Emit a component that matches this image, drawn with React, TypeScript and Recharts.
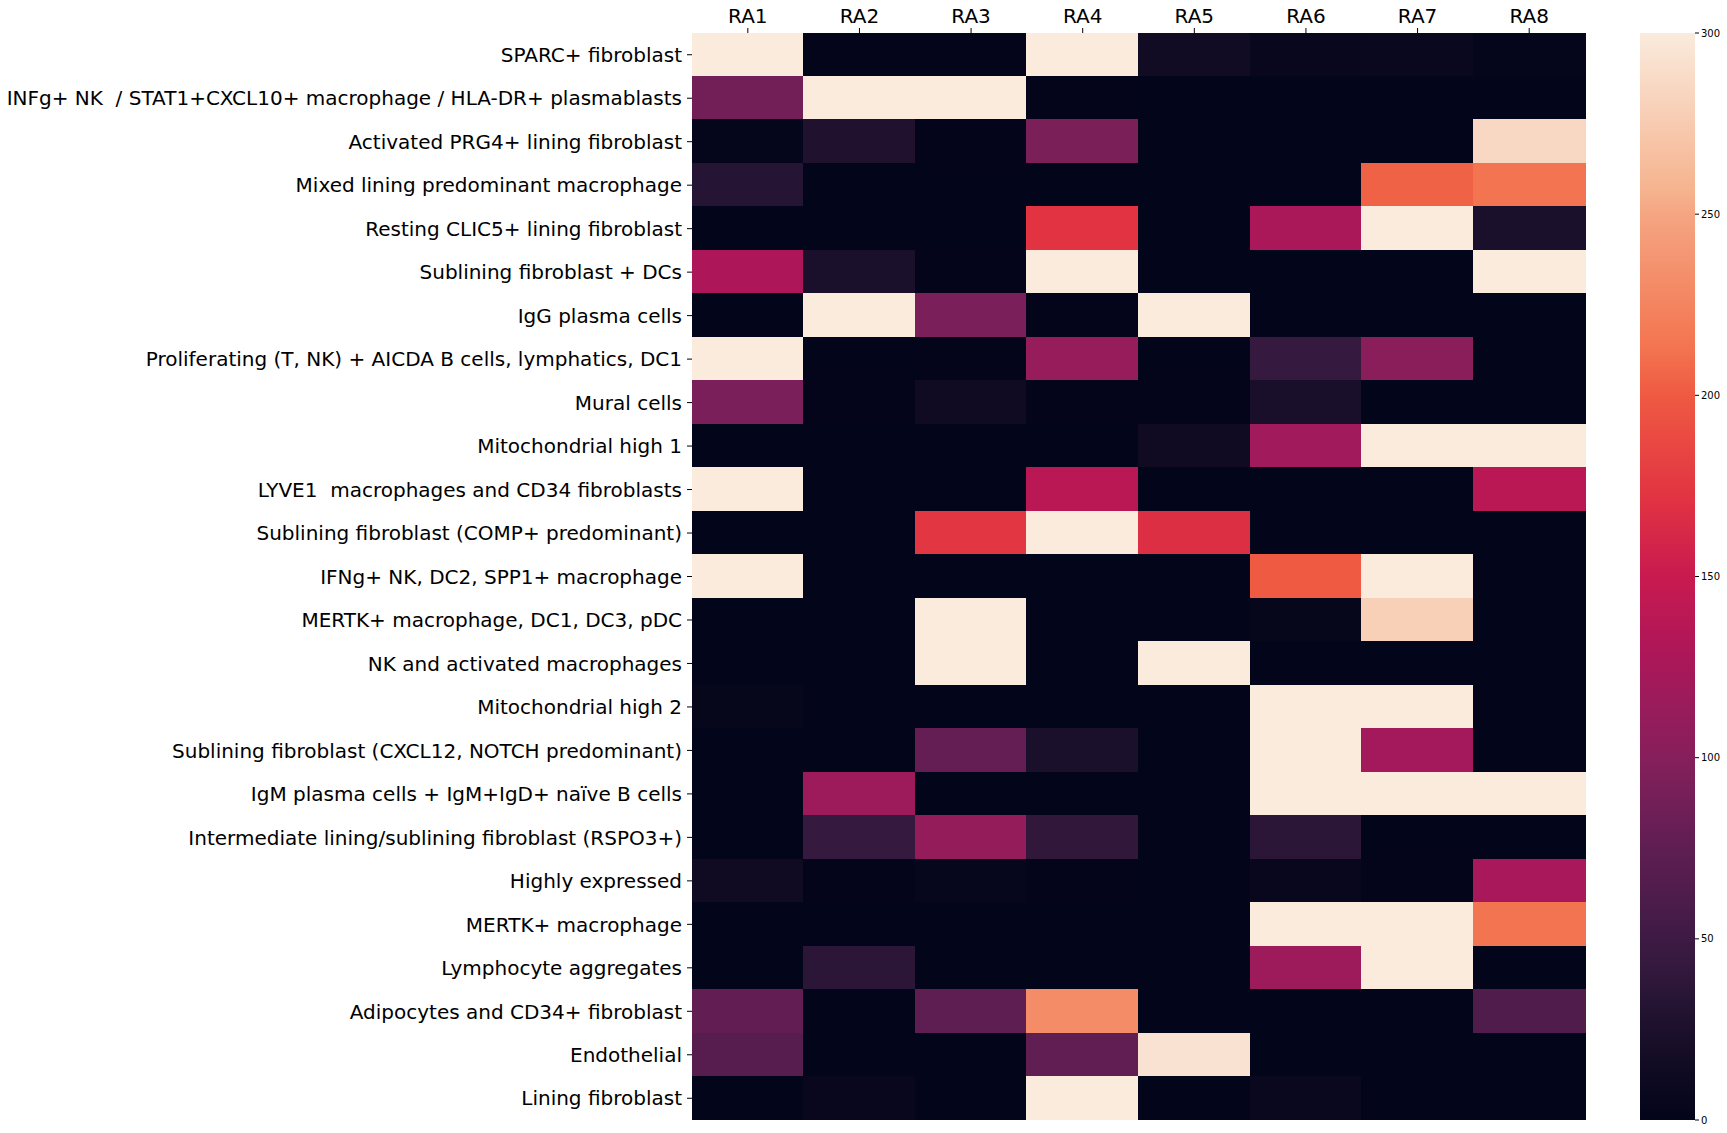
import React from 'react';
import { BarChart, Bar, XAxis, YAxis, Cell } from 'recharts';

// row labels (top to bottom)
const rowLabels = [
  'SPARC+ fibroblast',
  'INFg+ NK  / STAT1+CXCL10+ macrophage / HLA-DR+ plasmablasts',
  'Activated PRG4+ lining fibroblast',
  'Mixed lining predominant macrophage',
  'Resting CLIC5+ lining fibroblast',
  'Sublining fibroblast + DCs',
  'IgG plasma cells',
  'Proliferating (T, NK) + AICDA B cells, lymphatics, DC1',
  'Mural cells',
  'Mitochondrial high 1',
  'LYVE1  macrophages and CD34 fibroblasts',
  'Sublining fibroblast (COMP+ predominant)',
  'IFNg+ NK, DC2, SPP1+ macrophage',
  'MERTK+ macrophage, DC1, DC3, pDC',
  'NK and activated macrophages',
  'Mitochondrial high 2',
  'Sublining fibroblast (CXCL12, NOTCH predominant)',
  'IgM plasma cells + IgM+IgD+ naïve B cells',
  'Intermediate lining/sublining fibroblast (RSPO3+)',
  'Highly expressed',
  'MERTK+ macrophage',
  'Lymphocyte aggregates',
  'Adipocytes and CD34+ fibroblast',
  'Endothelial',
  'Lining fibroblast',
];

const colLabels = ['RA1', 'RA2', 'RA3', 'RA4', 'RA5', 'RA6', 'RA7', 'RA8'];

// one array per sample, same order as rowLabels
const RA1 = [300, 87, 2, 32, 0, 129, 0, 300, 92, 0, 300, 0, 300, 0, 0, 4, 0, 0, 0, 14, 0, 0, 77, 69, 0];
const RA2 = [1, 300, 28, 0, 0, 24, 300, 0, 1, 0, 0, 0, 0, 0, 0, 0, 0, 117, 43, 1, 0, 36, 0, 0, 5];
const RA3 = [1, 300, 1, 0, 0, 1, 92, 1, 14, 0, 0, 174, 0, 300, 300, 0, 78, 0, 110, 3, 0, 0, 74, 0, 0];
const RA4 = [300, 1, 93, 0, 171, 300, 1, 112, 1, 0, 138, 300, 0, 0, 0, 0, 24, 0, 40, 1, 0, 0, 231, 76, 300];
const RA5 = [15, 0, 0, 0, 0, 0, 300, 0, 1, 14, 0, 168, 0, 0, 300, 0, 0, 0, 0, 0, 0, 0, 0, 293, 0];
const RA6 = [6, 0, 0, 0, 127, 0, 0, 43, 23, 120, 0, 0, 200, 4, 0, 300, 300, 300, 37, 6, 300, 117, 0, 0, 8];
const RA7 = [7, 0, 0, 204, 300, 0, 0, 103, 0, 300, 0, 0, 300, 279, 0, 300, 122, 300, 0, 1, 300, 300, 0, 0, 0];
const RA8 = [2, 0, 285, 213, 24, 300, 0, 0, 0, 300, 138, 0, 0, 0, 0, 0, 0, 300, 0, 126, 213, 0, 63, 0, 0];

const columns = [RA1, RA2, RA3, RA4, RA5, RA6, RA7, RA8];

const colorbarTicks = [0, 50, 100, 150, 200, 250, 300];
const VMAX = 300;

// approx. seaborn "rocket"
const rocketStops: [number, string][] = [
  [0, '#03051a'],
  [0.05, '#110b23'],
  [0.1, '#221331'],
  [0.143, '#35193e'],
  [0.167, '#3d1a43'],
  [0.2, '#4c1c4b'],
  [0.25, '#5f1e52'],
  [0.286, '#701f57'],
  [0.333, '#861f5b'],
  [0.4, '#a11a5b'],
  [0.429, '#ad1759'],
  [0.5, '#c91a50'],
  [0.571, '#e13342'],
  [0.667, '#ef5a42'],
  [0.714, '#f37651'],
  [0.833, '#f5a582'],
  [0.857, '#f6b48f'],
  [0.93, '#f8d0b8'],
  [1, '#faebdd'],
];

const hexToRgb = (h: string) => [
  parseInt(h.slice(1, 3), 16),
  parseInt(h.slice(3, 5), 16),
  parseInt(h.slice(5, 7), 16),
];

const rocket = (t: number) => {
  const v = Math.max(0, Math.min(1, t));
  for (let i = 1; i < rocketStops.length; i++) {
    const [t1, c1] = rocketStops[i];
    if (v <= t1) {
      const [t0, c0] = rocketStops[i - 1];
      const f = (v - t0) / (t1 - t0);
      const a = hexToRgb(c0);
      const b = hexToRgb(c1);
      const rgb = a.map((x, k) => Math.round(x + (b[k] - x) * f));
      return `rgb(${rgb[0]},${rgb[1]},${rgb[2]})`;
    }
  }
  return rocketStops[rocketStops.length - 1][1];
};

const data = rowLabels.map((name) => {
  const row: any = { name };
  colLabels.forEach((c) => {
    row[c] = 1;
  });
  return row;
});

const FONT = '"DejaVu Sans", sans-serif';

const RowTick = (props: any) => {
  const { x, y, payload } = props;
  return (
    <text x={x} y={y} dy="0.36em" textAnchor="end" fontSize={20} fontFamily={FONT} fill="#000" style={{ whiteSpace: 'pre' }}>
      {payload.value}
    </text>
  );
};

const ColTick = (props: any) => {
  const { x, y, payload } = props;
  return (
    <text x={x} y={y} textAnchor="middle" fontSize={20} fontFamily={FONT} fill="#000">
      {colLabels[Math.floor(payload.value)]}
    </text>
  );
};

const App: React.FC = () => {
  return (
    <div style={{ position: 'absolute', left: 0, top: 0, width: 1727, height: 1133, background: '#fff' }}>
      <div style={{ position: 'absolute', left: 0, top: 0 }}>
        <BarChart
          width={1600}
          height={1133}
          data={data}
          layout="vertical"
          margin={{ top: 0, right: 15, bottom: 13, left: 0 }}
          barCategoryGap={0}
          barGap={0}
        >
          <XAxis
            type="number"
            orientation="top"
            domain={[0, 8]}
            ticks={[0.5, 1.5, 2.5, 3.5, 4.5, 5.5, 6.5, 7.5]}
            interval={0}
            height={33}
            axisLine={false}
            tickSize={5}
            tickMargin={5}
            tickLine={{ stroke: '#000', strokeWidth: 1 }}
            tick={<ColTick />}
          />
          <YAxis
            type="category"
            dataKey="name"
            width={692}
            interval={0}
            axisLine={false}
            tickSize={5}
            tickMargin={5}
            tickLine={{ stroke: '#000', strokeWidth: 1 }}
            tick={<RowTick />}
          />
          {colLabels.map((c, j) => (
            <Bar key={c} dataKey={c} stackId="a" isAnimationActive={false}>
              {columns[j].map((v, i) => {
                const fill = rocket(v / VMAX);
                return <Cell key={i} fill={fill} stroke={fill} strokeWidth={1} shapeRendering="crispEdges" />;
              })}
            </Bar>
          ))}
        </BarChart>
      </div>
      <div style={{ position: 'absolute', left: 1640, top: 0 }}>
        <BarChart
          width={87}
          height={1133}
          data={[{ name: 'cb', v: VMAX }]}
          margin={{ top: 33, right: 0, bottom: 13, left: 0 }}
          barCategoryGap={0}
        >
          <defs>
            <linearGradient id="rocketGrad" x1="0" y1="1" x2="0" y2="0">
              {rocketStops.map(([t, c]) => (
                <stop key={t} offset={`${t * 100}%`} stopColor={c} />
              ))}
            </linearGradient>
          </defs>
          <XAxis type="category" dataKey="name" hide />
          <YAxis
            type="number"
            orientation="right"
            domain={[0, VMAX]}
            ticks={colorbarTicks}
            interval={0}
            width={32}
            axisLine={false}
            tickSize={4}
            tickMargin={2}
            tickLine={{ stroke: '#000', strokeWidth: 1 }}
            tick={{ fontSize: 10, fill: '#000', fontFamily: FONT }}
          />
          <Bar dataKey="v" fill="url(#rocketGrad)" isAnimationActive={false} />
        </BarChart>
      </div>
    </div>
  );
};

export default App;
